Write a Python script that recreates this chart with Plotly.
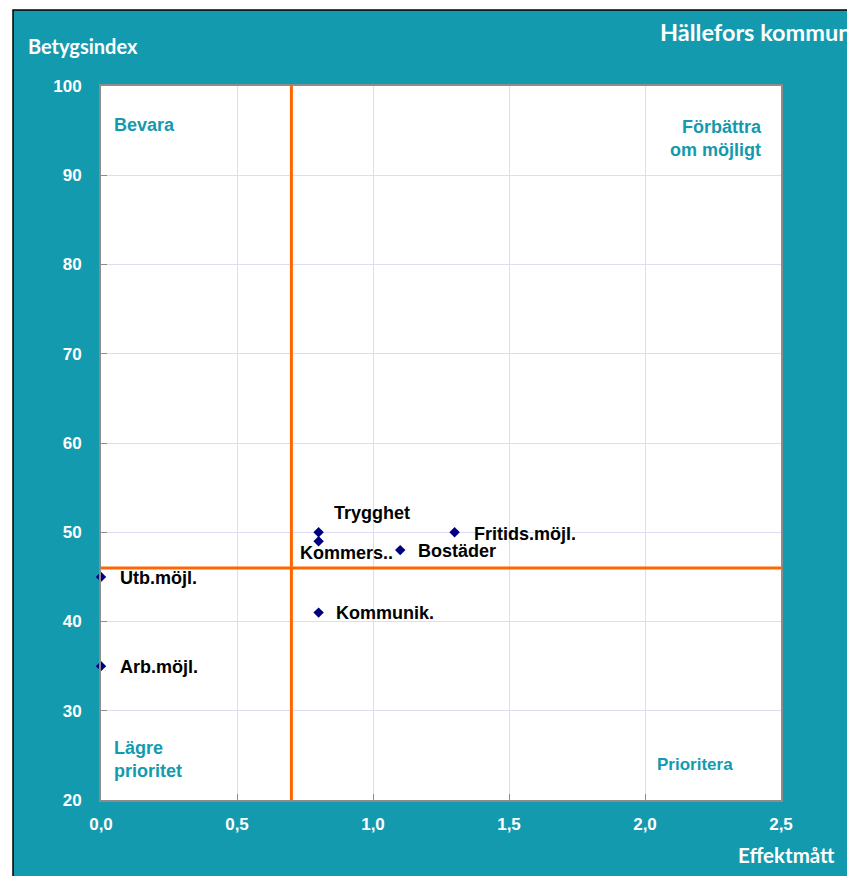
import plotly.graph_objects as go

# Data
names = ["Trygghet", "Kommers..", "Fritids.möjl.", "Bostäder", "Kommunik.", "Utb.möjl.", "Arb.möjl."]
effekt = [0.8, 0.8, 1.3, 1.1, 0.8, 0.0, 0.0]
betyg = [50, 49, 50, 48, 41, 45, 35]
label_xshift = [13, -21, 17, 16, 15, 17, 17]
label_yshift = [19, -12, -2, -1, 0, -1, -1]
x_threshold = 0.7
y_threshold = 46
x_ticks = [0.0, 0.5, 1.0, 1.5, 2.0, 2.5]
x_ticklabels = ["0,0", "0,5", "1,0", "1,5", "2,0", "2,5"]
y_ticks = [20, 30, 40, 50, 60, 70, 80, 90, 100]

TEAL = "#149AAF"
ARIAL = "Liberation Sans, Arial, sans-serif"
CAL = "Lato, Open Sans, sans-serif"

OFF = 8  # page body margin
W, H = 855 - OFF, 876 - OFF
L, R, T, B = 101 - OFF, 781 - OFF, 86 - OFF, 800 - OFF


def px(xp):
    return (xp - OFF - L) / (R - L)


def py(yp):
    return (B - (yp - OFF)) / (B - T)


fig = go.Figure()
fig.add_trace(go.Scatter(
    x=effekt, y=betyg, mode="markers",
    marker=dict(symbol="diamond", size=8, color="#00007F"),
    hoverinfo="text", text=names, showlegend=False, cliponaxis=False,
))

shapes = [
    dict(type="rect", xref="paper", yref="paper", x0=px(13), x1=px(900), y0=py(920), y1=py(10),
         fillcolor=TEAL, line=dict(color="black", width=1.5), layer="below"),
    dict(type="rect", xref="paper", yref="paper", x0=0, x1=1, y0=0, y1=1,
         fillcolor="white", line=dict(width=0), layer="below"),
    dict(type="line", xref="x", yref="paper", x0=x_threshold, x1=x_threshold, y0=0, y1=1,
         line=dict(color="#FF6600", width=3)),
    dict(type="line", xref="paper", yref="y", x0=0, x1=1, y0=y_threshold, y1=y_threshold,
         line=dict(color="#FF6600", width=3)),
]

annotations = []
for n, xv, yv, dx, dy in zip(names, effekt, betyg, label_xshift, label_yshift):
    annotations.append(dict(x=xv, y=yv, xref="x", yref="y", text=n, showarrow=False,
                            xanchor="left", yanchor="middle", xshift=dx, yshift=dy,
                            font=dict(family=ARIAL, size=18, color="black", weight="bold")))

qfont = dict(family=ARIAL, size=18, color=TEAL, weight="bold")
annotations += [
    dict(x=px(112), y=py(125), xref="paper", yref="paper", text="Bevara", showarrow=False,
         xanchor="left", yanchor="middle", font=qfont),
    dict(x=px(764), y=py(139), xref="paper", yref="paper", text="Förbättra<br>om möjligt",
         showarrow=False, xanchor="right", yanchor="middle", align="right", font=qfont),
    dict(x=px(112), y=py(759), xref="paper", yref="paper", text="Lägre<br>prioritet",
         showarrow=False, xanchor="left", yanchor="middle", align="left", font=qfont),
    dict(x=px(735), y=py(764), xref="paper", yref="paper", text="Prioritera",
         showarrow=False, xanchor="right", yanchor="middle",
         font=dict(family=ARIAL, size=17, color=TEAL, weight="bold")),
    dict(x=px(26), y=py(46), xref="paper", yref="paper", text="Betygsindex", showarrow=False,
         xanchor="left", yanchor="middle",
         font=dict(family=CAL, size=20, color="white", weight="bold")),
    dict(x=px(853), y=py(32), xref="paper", yref="paper", text="Hällefors kommun", showarrow=False,
         xanchor="right", yanchor="middle",
         font=dict(family=CAL, size=23.5, color="white", weight="bold")),
    dict(x=px(837), y=py(855), xref="paper", yref="paper", text="Effektmått", showarrow=False,
         xanchor="right", yanchor="middle",
         font=dict(family=CAL, size=20.5, color="white", weight="bold")),
]

tickfont = dict(family=ARIAL, size=17, color="white", weight="bold")
fig.update_layout(
    width=W, height=H,
    margin=dict(l=L, r=W - R, t=T, b=H - B),
    paper_bgcolor="white", plot_bgcolor="rgba(0,0,0,0)",
    shapes=shapes, annotations=annotations,
    xaxis=dict(range=[0, 2.5], tickvals=x_ticks, ticktext=x_ticklabels,
               showgrid=True, gridcolor="#DCDCF5", gridwidth=1, zeroline=False,
               showline=True, linecolor="#8C8C8C", linewidth=2, mirror=True,
               ticks="inside", ticklen=6, tickcolor="#8C8C8C", tickfont=tickfont,
               ticklabelstandoff=8, fixedrange=True),
    yaxis=dict(range=[20, 100], tickvals=y_ticks,
               showgrid=True, gridcolor="#DCDCF5", gridwidth=1, zeroline=False,
               showline=True, linecolor="#8C8C8C", linewidth=2, mirror=True,
               ticks="inside", ticklen=6, tickcolor="#8C8C8C", tickfont=tickfont,
               ticklabelstandoff=14, fixedrange=True),
)

fig.write_html("out.html")
